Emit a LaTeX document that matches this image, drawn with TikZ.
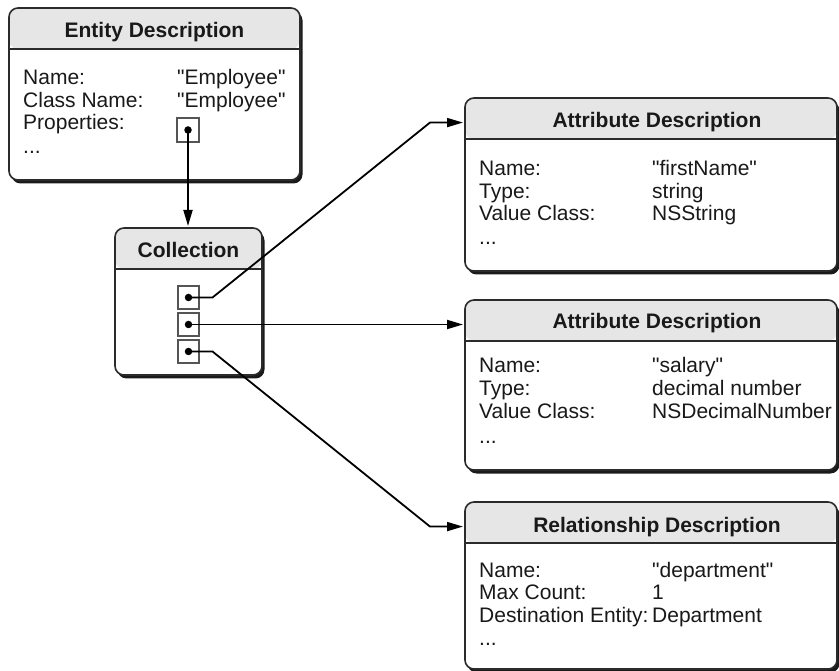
\documentclass[tikz,border=0pt]{standalone}
\usepackage{fontspec}
\setmainfont{Liberation Sans}[Ligatures=TeXOff]
\usetikzlibrary{arrows.meta,shadows}
\definecolor{bordercol}{HTML}{2B2B2B}
\definecolor{hdrcol}{HTML}{E6E6E6}
\definecolor{shadowcol}{HTML}{1A1A1A}
\definecolor{slotcol}{HTML}{555555}
\begin{document}
\begin{tikzpicture}[x=1pt,y=-1pt,
  every node/.style={font=\fontsize{21}{23}\selectfont},
  dbox/.style 2 args={rectangle, draw=bordercol, line width=1.6pt, rounded corners=9pt,
    fill=white, inner sep=0pt, outer sep=0pt, anchor=north west,
    minimum width=#1, minimum height=#2,
    drop shadow={shadow xshift=2.5pt, shadow yshift=-3.5pt, fill=shadowcol, opacity=1},
    path picture={
      \fill[hdrcol] (path picture bounding box.north west) rectangle ([yshift=-41pt]path picture bounding box.north east);
      \draw[bordercol, line width=1.5pt] ([yshift=-41pt]path picture bounding box.north west) -- ([yshift=-41pt]path picture bounding box.north east);
    }},
  ttl/.style={anchor=base, inner sep=0pt, font=\fontsize{21}{23}\selectfont\bfseries, text=black!90},
  lbl/.style={anchor=base west, inner sep=0pt, text=black!90},
  slot/.style={rectangle, draw=slotcol, line width=1.1pt, fill=white, minimum width=22pt, minimum height=23pt, inner sep=0pt},
  dotn/.style={circle, fill=black, draw=none, minimum size=7.5pt, inner sep=0pt},
  conn/.style={draw=black, line width=1.8pt, -{Triangle[length=16pt,width=9pt]}, shorten >=2pt}
]
\useasboundingbox (0,0) rectangle (839,671);

% boxes
\node[dbox={291pt}{172pt}] (ent) at (9,8) {};
\node[dbox={147pt}{147pt}] (col) at (115,228) {};
\node[dbox={372pt}{173pt}] (a1) at (465,98) {};
\node[dbox={372pt}{170pt}] (a2) at (465,300) {};
\node[dbox={372pt}{167pt}] (a3) at (465,502) {};

% titles
\node[ttl] (entT) at (154.5,38) {Entity Description};
\node[ttl] (colT) at (188.5,258) {Collection};
\node[ttl] (a1T) at (657,128) {Attribute Description};
\node[ttl] (a2T) at (657,329) {Attribute Description};
\node[ttl] (a3T) at (657,532) {Relationship Description};

% entity fields
\node[lbl] (eL1) at (23,85) {Name:};
\node[lbl] (eV1) at (177,85) {"Employee"};
\node[lbl] (eL2) at (23,107.5) {Class Name:};
\node[lbl] (eV2) at (177,107.5) {"Employee"};
\node[lbl] (eL3) at (23,130) {Properties:};
\node[lbl] (eL4) at (23,154) {...};

% attribute 1 fields
\node[lbl] (aL1) at (479,176) {Name:};
\node[lbl] (aV1) at (652,176) {"firstName"};
\node[lbl] (aL2) at (479,198.5) {Type:};
\node[lbl] (aV2) at (652,198.5) {string};
\node[lbl] (aL3) at (479,221) {Value Class:};
\node[lbl] (aV3) at (652,221) {NSString};
\node[lbl] (aL4) at (479,245) {...};

% attribute 2 fields
\node[lbl] (bL1) at (479,373) {Name:};
\node[lbl] (bV1) at (652,373) {"salary"};
\node[lbl] (bL2) at (479,395.5) {Type:};
\node[lbl] (bV2) at (652,395.5) {decimal number};
\node[lbl] (bL3) at (479,418) {Value Class:};
\node[lbl] (bV3) at (652,418) {NSDecimalNumber};
\node[lbl] (bL4) at (479,443) {...};

% relationship fields
\node[lbl] (cL1) at (479,577) {Name:};
\node[lbl] (cV1) at (652,577) {"department"};
\node[lbl] (cL2) at (479,599.5) {Max Count:};
\node[lbl] (cV2) at (652,599.5) {1};
\node[lbl] (cL3) at (479,622) {Destination Entity:};
\node[lbl] (cV3) at (652,622) {Department};
\node[lbl] (cL4) at (479,645) {...};

% slots
\node[slot, minimum height=24pt] (es) at (188,130) {};
\node[slot, minimum width=21pt] (cs1) at (188.5,297.5) {};
\node[slot, minimum width=21pt] (cs2) at (188.5,324.5) {};
\node[slot, minimum width=21pt] (cs3) at (188.5,351.5) {};
\node[dotn] (ed) at (es.center) {};
\node[dotn] (cd1) at (cs1.center) {};
\node[dotn] (cd2) at (cs2.center) {};
\node[dotn] (cd3) at (cs3.center) {};

% helper coordinates
\coordinate (j1) at ([xshift=24pt]cd1.center);
\coordinate (j3) at ([xshift=24pt]cd3.center);
\coordinate (k1) at ([xshift=-35pt]a1.west |- a1T.center);
\coordinate (k3) at ([xshift=-35pt]a3.west |- a3T.center);

% connectors
\draw[conn] (ed.center) -- (ed.center |- col.north);
\draw[conn] (cd1.center) -- (j1) -- (k1) -- (a1.west |- a1T.center);
\draw[conn] (cd2.center) -- (a2.west |- cd2.center);
\draw[conn] (cd3.center) -- (j3) -- (k3) -- (a3.west |- a3T.center);
\end{tikzpicture}
\end{document}
